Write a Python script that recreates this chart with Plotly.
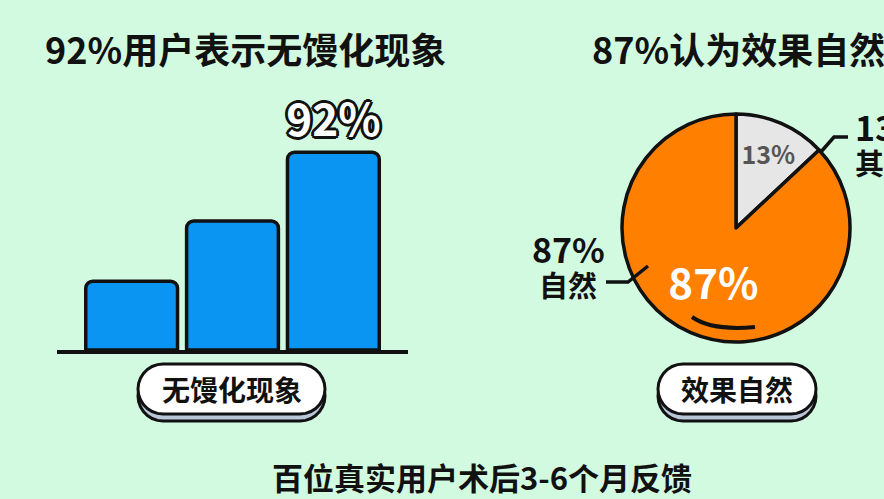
import math
import plotly.graph_objects as go

W, H = 884, 499

# bar chart (left)
bar_title = "92%用户表示无馒化现象"
bar_x = [0, 1, 2]
bar_values = [32, 60, 92]
bar_text = ["", "", "92%"]
bar_tag = "无馒化现象"

# pie chart (right)
pie_title = "87%认为效果自然"
pie_labels = ["其他", "自然"]
pie_values = [13, 87]
pie_tag = "效果自然"

footer = "百位真实用户术后3-6个月反馈"

FONT = "Noto Sans CJK SC"
BG = "#d2fae0"


def px(x):
    return x / W


def py(y):
    return 1 - y / H


def pill_path(x0, y0, x1, y1, n=14):
    # rounded-end rectangle, pixel box -> paper path
    r = (y1 - y0) / 2
    cy = (y0 + y1) / 2
    pts = []
    for i in range(n + 1):
        a = -math.pi / 2 + math.pi * i / n
        pts.append((x1 - r + r * math.cos(a), cy + r * math.sin(a)))
    for i in range(n + 1):
        a = math.pi / 2 + math.pi * i / n
        pts.append((x0 + r + r * math.cos(a), cy + r * math.sin(a)))
    return "M " + " L ".join("%.5f,%.5f" % (px(a), py(b)) for a, b in pts) + " Z"


def pill(x0, y0, x1, y1):
    return [
        dict(type="path", xref="paper", yref="paper", path=pill_path(x0, y0 + 7, x1, y1 + 7),
             fillcolor="#b9c6d8", line=dict(color="#111", width=3), layer="above"),
        dict(type="path", xref="paper", yref="paper", path=pill_path(x0, y0, x1, y1),
             fillcolor="white", line=dict(color="#111", width=3), layer="above"),
    ]


def poly(points, width=3.5):
    d = "M " + " L ".join("%.5f,%.5f" % (px(a), py(b)) for a, b in points)
    return dict(type="path", xref="paper", yref="paper", path=d, line=dict(color="#111", width=width))


outline = ", ".join("%dpx %dpx 0 #111" % (dx, dy) for dx, dy in
                    [(2, 2), (-2, -2), (2, -2), (-2, 2), (0, 3), (3, 0), (0, -3), (-3, 0)])

fig = go.Figure()
fig.add_trace(go.Bar(
    x=bar_x, y=bar_values, text=bar_text,
    textposition="outside", constraintext="none", cliponaxis=False,
    textfont=dict(family=FONT, size=44, color="white", weight="bold", shadow=outline),
    marker=dict(color="#0b95f2", line=dict(color="#111", width=3.5), cornerradius=7),
    width=0.91, hoverinfo="skip"))

fig.add_trace(go.Pie(
    labels=pie_labels, values=pie_values, sort=False,
    direction="clockwise", rotation=0,
    marker=dict(colors=["#e6e6e6", "#ff8000"], line=dict(color="#111", width=3.5)),
    texttemplate="%{percent:.0%}", textposition="inside",
    insidetextorientation="horizontal",
    textfont=dict(family=FONT, size=[36, 42], color=["#555555", "white"], weight="bold"),
    domain=dict(x=[px(622), px(850)], y=[py(342), py(114)]),
    showlegend=False, hoverinfo="skip"))

shapes = []
shapes += pill(138, 364, 325, 414)
shapes += pill(658, 364, 816, 414)
# leader lines
shapes.append(poly([(648, 266), (628, 282), (606, 282)]))
shapes.append(poly([(820, 153), (834, 137), (848, 137)]))
# smile
shapes.append(dict(type="path", xref="paper", yref="paper",
                   path="M %.5f,%.5f Q %.5f,%.5f %.5f,%.5f" % (px(692), py(317), px(712), py(331), px(755), py(327)),
                   line=dict(color="#111", width=4)))

ann = []
ann.append(dict(x=px(245), y=py(48), text="<b>%s</b>" % bar_title, font=dict(family=FONT, size=36, color="#111")))
ann.append(dict(x=px(738), y=py(48), text="<b>%s</b>" % pie_title, font=dict(family=FONT, size=36, color="#111")))
ann.append(dict(x=px(232), y=py(389), text="<b>%s</b>" % bar_tag, font=dict(family=FONT, size=28, color="#111")))
ann.append(dict(x=px(737), y=py(389), text="<b>%s</b>" % pie_tag, font=dict(family=FONT, size=28, color="#111")))
# outside slice labels
ann.append(dict(x=px(568), y=py(249), text="<b>%d%%</b>" % pie_values[1],
                font=dict(family=FONT, size=34, color="#111")))
ann.append(dict(x=px(568), y=py(284), text="<b>%s</b>" % pie_labels[1],
                font=dict(family=FONT, size=29, color="#111")))
ann.append(dict(x=px(853), y=py(127), xanchor="left", text="<b>%d%%</b>" % pie_values[0],
                font=dict(family=FONT, size=34, color="#111")))
ann.append(dict(x=px(853), y=py(162), xanchor="left", text="<b>%s</b>" % pie_labels[0],
                font=dict(family=FONT, size=29, color="#111")))
ann.append(dict(x=px(482), y=py(476), text="<b>%s</b>" % footer, font=dict(family=FONT, size=31, color="#111")))
for a in ann:
    a.setdefault("xanchor", "center")
    a.update(xref="paper", yref="paper", yanchor="middle", showarrow=False)

fig.update_layout(
    width=W, height=H, margin=dict(l=0, r=0, t=0, b=0),
    paper_bgcolor=BG, plot_bgcolor="rgba(0,0,0,0)",
    showlegend=False, shapes=shapes, annotations=ann,
    xaxis=dict(domain=[px(57), px(408)], range=[-0.74, 2.74], showticklabels=False,
               showgrid=False, zeroline=False, showline=True, linecolor="#111", linewidth=4, ticks=""),
    yaxis=dict(domain=[py(350), py(135)], range=[0, 100], showticklabels=False,
               showgrid=False, zeroline=False, showline=False),
)

fig.write_html("out.html", config={"displayModeBar": False},
               post_script="document.body.style.margin='0';document.body.style.background='%s';" % BG)
